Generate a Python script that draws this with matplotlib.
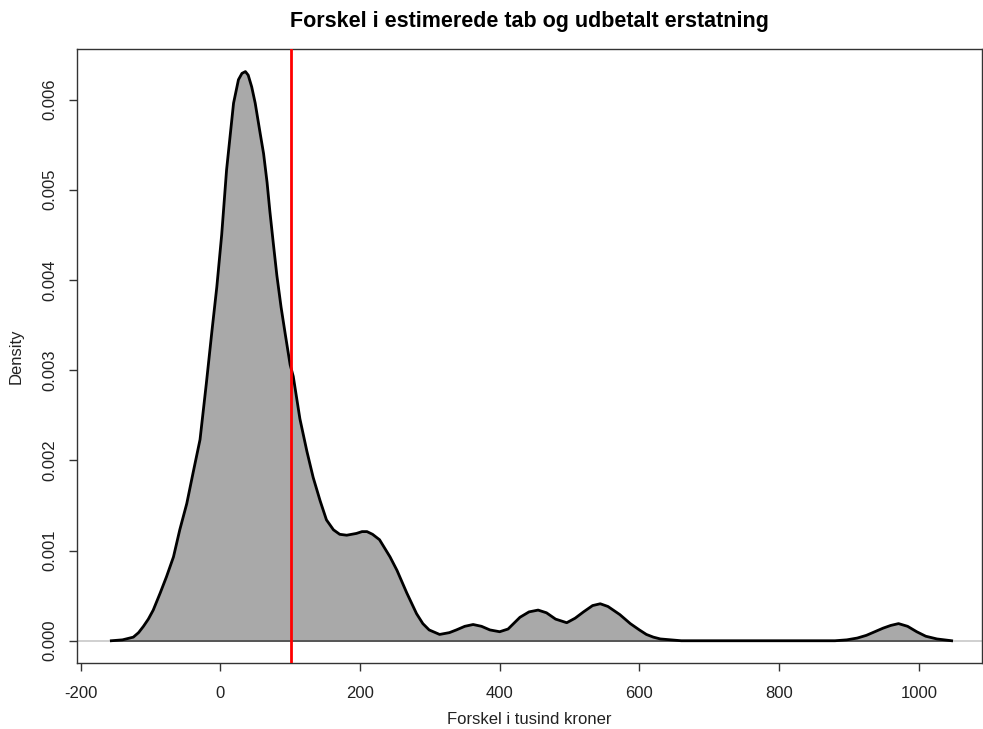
import numpy as np
import matplotlib.pyplot as plt

plt.rcParams['font.family'] = ['Liberation Sans', 'DejaVu Sans']

# density curve (thousand DKK, density)
x_vals = [-156, -140, -124.5, -117, -110, -103, -96, -86, -77, -67, -58, -48, -39, -29,
          -20, -12, -5, 2, 9, 14, 19, 26, 31, 36, 40, 45, 50, 57, 62, 67, 71, 76, 81,
          87, 93, 100, 104.5, 114, 124, 133, 143, 152, 162, 171, 181, 195, 203, 210,
          218, 228, 243, 253, 267, 281, 290, 299, 314, 328, 338, 350, 362, 374, 386,
          400, 412, 429, 442, 455, 467, 480, 496, 508, 520, 533, 544, 555, 572, 587,
          600, 610, 620, 630, 645, 660, 880, 897, 912, 925, 937, 949, 960, 971, 984,
          997, 1010, 1026, 1047]
y_vals = [0.0, 0.00001, 0.00004, 0.00009, 0.00016, 0.00024, 0.00034, 0.00053, 0.00071,
          0.00093, 0.00123, 0.00152, 0.00186, 0.00223, 0.00285, 0.00343, 0.00392, 0.0045,
          0.00522, 0.00559, 0.00596, 0.00622, 0.00629, 0.00631, 0.00627, 0.00614, 0.00596,
          0.00563, 0.0054, 0.00508, 0.00476, 0.0044, 0.00405, 0.0037, 0.0034, 0.00306,
          0.00293, 0.00246, 0.0021, 0.00181, 0.00155, 0.00134, 0.00123, 0.00118, 0.00117,
          0.00119, 0.00121, 0.00121, 0.00118, 0.00112, 0.00093, 0.00078, 0.00053, 0.0003,
          0.00019, 0.00012, 0.00007, 0.00009, 0.00012, 0.00016, 0.00018, 0.00016, 0.00012,
          0.0001, 0.00013, 0.00026, 0.00032, 0.00034, 0.00031, 0.00024, 0.0002, 0.00025,
          0.00032, 0.00039, 0.00041, 0.00038, 0.00029, 0.00019, 0.00012, 0.00007, 0.00004,
          0.00002, 0.00001, 0.0, 0.0, 0.00001, 0.00003, 0.00006, 0.0001, 0.00014, 0.00017,
          0.00019, 0.00016, 0.0001, 0.00005, 0.00002, 0.0]
mean_diff = 101

x_ticks = [-200, 0, 200, 400, 600, 800, 1000]
y_ticks = [0.000, 0.001, 0.002, 0.003, 0.004, 0.005, 0.006]

fig = plt.figure(figsize=(9.83, 7.29), dpi=100)
ax = fig.add_axes([77.3/983, (729-663.3)/729, (982-77.3)/983, (663.3-49.3)/729])

ax.axhline(0, color='#c8c8c8', lw=1.2, zorder=1)
ax.fill(x_vals, y_vals, facecolor='#a9a9a9', edgecolor='none', zorder=2)
ax.plot([x_vals[0], x_vals[-1]], [0, 0], color='#555555', lw=1.4, zorder=3)
ax.plot(x_vals, y_vals, color='black', lw=2, solid_joinstyle='round', zorder=4)
ax.axvline(mean_diff, color='red', lw=2, zorder=5)

ax.set_xlim(-204.7, 1090.5)
ax.set_ylim(-0.00025, 0.006557)
ax.set_xticks(x_ticks)
ax.set_xticklabels([str(v) for v in x_ticks])
ax.set_yticks(y_ticks)
ax.set_yticklabels(['%.3f' % v for v in y_ticks], rotation=90, va='center')

for s in ax.spines.values():
    s.set_color('#333333')
    s.set_linewidth(1.0)
ax.tick_params(axis='both', direction='out', length=6, width=1, color='#333333',
               labelsize=12, labelcolor='#222222')
ax.tick_params(axis='x', pad=10)
ax.tick_params(axis='y', pad=8)

ax.set_title('Forskel i estimerede tab og udbetalt erstatning', fontsize=15.5,
             fontweight='bold', pad=16)
ax.set_xlabel('Forskel i tusind kroner', fontsize=12, color='#222222', labelpad=8)
ax.set_ylabel('Density', fontsize=12, color='#222222', labelpad=14)

fig.savefig('out.png', dpi=100)
